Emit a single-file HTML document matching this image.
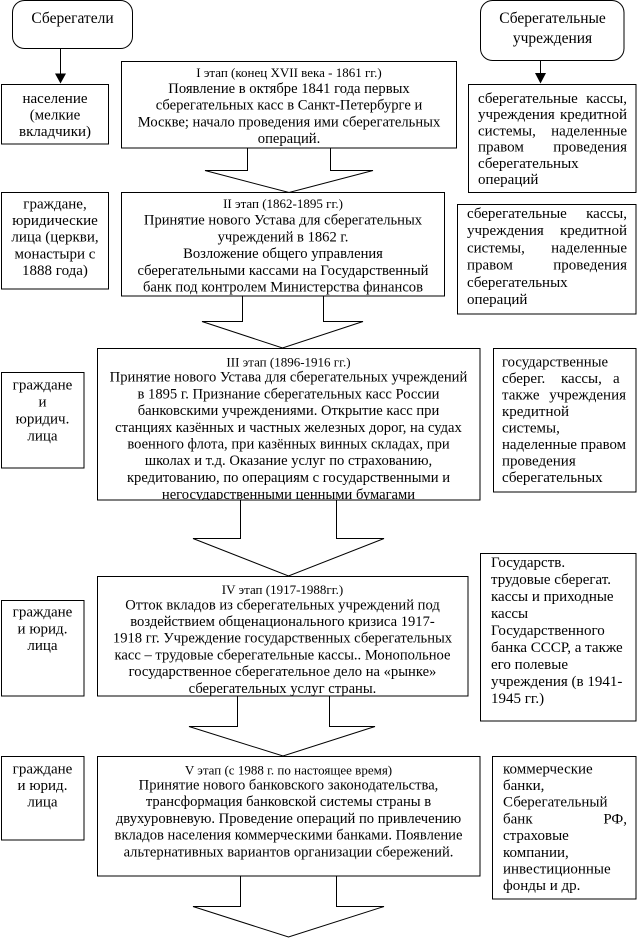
<!DOCTYPE html>
<html><head><meta charset="utf-8">
<style>
html,body{margin:0;padding:0;background:#fff;width:639px;height:942px;overflow:hidden}
svg{display:block}
text{font-family:"Liberation Serif","DejaVu Serif",serif;font-size:15px;fill:#000}
.m{font-size:14.6px}
.h{font-size:13px}
.c{text-anchor:middle}
.e{text-anchor:end}
</style></head><body>
<svg width="639" height="942" viewBox="0 0 639 942" xmlns="http://www.w3.org/2000/svg">
<defs>
<clipPath id="cr1"><rect x="468" y="84" width="168" height="109"/></clipPath>
<clipPath id="c3"><rect x="97" y="348" width="383" height="152"/></clipPath>
<clipPath id="c4"><rect x="97" y="576" width="371" height="120"/></clipPath>
</defs>
<g fill="#fff" stroke="#000" stroke-width="1">
<!-- block arrows -->
<polygon points="247.5,140 247.5,170.5 205,170.5 289,192.5 373,170.5 330.5,170.5 330.5,140"/>
<polygon points="242.5,290 242.5,321.5 202,321.5 282.5,348 363,321.5 323.5,321.5 323.5,290"/>
<polygon points="240.5,494 240.5,538.5 193,538.5 288.5,576 384,538.5 336.5,538.5 336.5,494"/>
<polygon points="237.5,690 237.5,726.5 189,726.5 283,756 375,726.5 329.5,726.5 329.5,690"/>
<polygon points="240.5,870 240.5,906.5 193,906.5 288.5,937 384,906.5 336.5,906.5 336.5,870"/>
<!-- rounded boxes -->
<rect x="12.5" y="0.5" width="120" height="48" rx="12" ry="12"/>
<rect x="480.5" y="0.5" width="143.5" height="60" rx="12" ry="12"/>
<!-- boxes -->
<rect x="1.5" y="84.5" width="107" height="59.5"/>
<rect x="121.5" y="61.5" width="335" height="86.5"/>
<rect x="468.5" y="84.5" width="167.5" height="108"/>
<rect x="1.5" y="192.5" width="107" height="96.5"/>
<rect x="121.5" y="192.5" width="323" height="103.5"/>
<rect x="457.5" y="204.5" width="178.5" height="109.5"/>
<rect x="97.5" y="348.5" width="382.5" height="151.5"/>
<rect x="1.5" y="372.5" width="82.5" height="95.5"/>
<rect x="493.5" y="348.5" width="142.5" height="143.5"/>
<rect x="97.5" y="576.5" width="370.5" height="119.5"/>
<rect x="1.5" y="600.5" width="82.5" height="95.5"/>
<rect x="480.5" y="553.5" width="155.5" height="167.5"/>
<rect x="97.5" y="756.5" width="382.5" height="119.5"/>
<rect x="1.5" y="756.5" width="82.5" height="83.5"/>
<rect x="492.5" y="756.5" width="143.5" height="142.5"/>
</g>
<!-- small arrows -->
<line x1="60.5" y1="48" x2="60.5" y2="74" stroke="#000" stroke-width="1"/>
<polygon points="55,73.5 66,73.5 60.5,83.5" fill="#000"/>
<line x1="540.5" y1="61" x2="540.5" y2="74" stroke="#000" stroke-width="1"/>
<polygon points="535,73 546,73 540.5,83.5" fill="#000"/>

<!-- top rounded box texts -->
<text class="c" x="72.5" y="23" style="font-size:15.5px">Сберегатели</text>
<text class="c" x="552.5" y="23" style="font-size:15.5px">Сберегательные</text>
<text class="c" x="552.5" y="43" style="font-size:15.5px">учреждения</text>

<!-- left boxes -->
<text class="c" x="55" y="103">население</text>
<text class="c" x="55" y="119.5">(мелкие</text>
<text class="c" x="55" y="136">вкладчики)</text>

<text class="c" x="55" y="208.3">граждане,</text>
<text class="c" x="55" y="225">юридические</text>
<text class="c" x="55" y="241.7">лица (церкви,</text>
<text class="c" x="55" y="258.3">монастыри с</text>
<text class="c" x="55" y="275">1888 года)</text>

<text class="c" x="42.5" y="389.5">граждане</text>
<text class="c" x="42.5" y="406.5">и</text>
<text class="c" x="42.5" y="423.5">юридич.</text>
<text class="c" x="42.5" y="440.5">лица</text>

<text class="c" x="42.5" y="616.7">граждане</text>
<text class="c" x="42.5" y="633.3">и юрид.</text>
<text class="c" x="42.5" y="650">лица</text>

<text class="c" x="42.5" y="773.3">граждане</text>
<text class="c" x="42.5" y="790">и юрид.</text>
<text class="c" x="42.5" y="806.7">лица</text>

<!-- Box I -->
<text class="c h" x="289" y="77">I этап (конец XVII века - 1861 гг.)</text>
<text class="c m" x="289" y="93">Появление в октябре 1841 года первых</text>
<text class="c m" x="289" y="109.7">сберегательных касс в Санкт-Петербурге и</text>
<text class="c m" x="289" y="126.4">Москве; начало проведения ими сберегательных</text>
<text class="c m" x="289" y="143">операций.</text>

<!-- Box II -->
<text class="c h" x="283" y="208">II этап (1862-1895 гг.)</text>
<text class="c m" x="283" y="224.5">Принятие нового Устава для сберегательных</text>
<text class="c m" x="283" y="241.3">учреждений в 1862 г.</text>
<text class="c m" x="283" y="258">Возложение общего управления</text>
<text class="c m" x="283" y="274.8">сберегательными кассами на Государственный</text>
<text class="c m" x="283" y="291.5">банк под контролем Министерства финансов</text>

<!-- Box III -->
<g clip-path="url(#c3)">
<text class="c h" x="288.5" y="366.5">III этап (1896-1916 гг.)</text>
<text class="c m" x="288.5" y="381.7">Принятие нового Устава для сберегательных учреждений</text>
<text class="c m" x="288.5" y="398.4">в 1895 г. Признание сберегательных касс России</text>
<text class="c m" x="288.5" y="415.1">банковскими учреждениями. Открытие касс при</text>
<text class="c m" x="288.5" y="431.8">станциях казённых и частных железных дорог, на судах</text>
<text class="c m" x="288.5" y="448.5">военного флота, при казённых винных складах, при</text>
<text class="c m" x="288.5" y="465.2">школах и т.д. Оказание услуг по страхованию,</text>
<text class="c m" x="288.5" y="481.9">кредитованию, по операциям с государственными и</text>
<text class="c m" x="288.5" y="498.8">негосударственными ценными бумагами</text>
</g>

<!-- Box IV -->
<g clip-path="url(#c4)">
<text class="c h" x="282.5" y="594">IV этап (1917-1988гг.)</text>
<text class="c m" x="282.5" y="609.3">Отток вкладов из сберегательных учреждений под</text>
<text class="c m" x="282.5" y="626">воздействием общенационального кризиса 1917-</text>
<text class="c m" x="282.5" y="642.7">1918 гг. Учреждение государственных сберегательных</text>
<text class="c m" x="282.5" y="659.4">касс – трудовые сберегательные кассы.. Монопольное</text>
<text class="c m" x="282.5" y="676.1">государственное сберегательное дело на «рынке»</text>
<text class="c m" x="282.5" y="692.8">сберегательных услуг страны.</text>
</g>

<!-- Box V -->
<text class="c h" x="288.5" y="774.3">V этап (с 1988 г. по настоящее время)</text>
<text class="c m" x="288.5" y="789.5">Принятие нового банковского законодательства,</text>
<text class="c m" x="288.5" y="806.2">трансформация банковской системы страны в</text>
<text class="c m" x="288.5" y="822.9">двухуровневую. Проведение операций по привлечению</text>
<text class="c m" x="288.5" y="839.6">вкладов населения коммерческими банками. Появление</text>
<text class="c m" x="288.5" y="856.3">альтернативных вариантов организации сбережений.</text>

<!-- Right box 1 -->
<g clip-path="url(#cr1)">
<text x="478" y="103">сберегательные</text><text class="e" x="627" y="103">кассы,</text>
<text x="478" y="119.2">учреждения</text><text class="e" x="627" y="119.2">кредитной</text>
<text x="478" y="135.4">системы,</text><text class="e" x="627" y="135.4">наделенные</text>
<text x="478" y="151.6">правом</text><text class="e" x="627" y="151.6">проведения</text>
<text x="478" y="167.8">сберегательных</text>
<text x="478" y="184">операций</text>
</g>

<!-- Right box 2 -->
<text x="467" y="218">сберегательные</text><text class="e" x="627" y="218">кассы,</text>
<text x="467" y="235.2">учреждения</text><text class="e" x="627" y="235.2">кредитной</text>
<text x="467" y="252.4">системы,</text><text class="e" x="627" y="252.4">наделенные</text>
<text x="467" y="269.6">правом</text><text class="e" x="627" y="269.6">проведения</text>
<text x="467" y="286.8">сберегательных</text>
<text x="467" y="304">операций</text>

<!-- Right box 3 -->
<text x="502" y="366.5" textLength="106" lengthAdjust="spacingAndGlyphs">государственные</text>
<text x="502" y="383">сберег.</text><text x="561" y="383">кассы,</text><text x="613" y="383">а</text>
<text x="502" y="399.5">также</text><text class="e" x="626" y="399.5">учреждения</text>
<text x="502" y="416">кредитной</text>
<text x="502" y="432.5">системы,</text>
<text x="502" y="449" textLength="124" lengthAdjust="spacingAndGlyphs">наделенные правом</text>
<text x="502" y="465.5">проведения</text>
<text x="502" y="482">сберегательных</text>

<!-- Right box 4 -->
<text x="491" y="567">Государств.</text>
<text x="491" y="584">трудовые сберегат.</text>
<text x="491" y="601">кассы и приходные</text>
<text x="491" y="618">кассы</text>
<text x="491" y="635">Государственного</text>
<text x="491" y="652">банка СССР, а также</text>
<text x="491" y="669">его полевые</text>
<text x="491" y="686">учреждения  (в 1941-</text>
<text x="491" y="703">1945 гг.)</text>

<!-- Right box 5 -->
<text x="503" y="773.3">коммерческие</text>
<text x="503" y="790">банки,</text>
<text x="503" y="806.7">Сберегательный</text>
<text x="503" y="823.4">банк</text><text class="e" x="627" y="823.4">РФ,</text>
<text x="503" y="840.1">страховые</text>
<text x="503" y="856.8">компании,</text>
<text x="503" y="873.5">инвестиционные</text>
<text x="503" y="890.2">фонды и др.</text>
</svg>
</body></html>
